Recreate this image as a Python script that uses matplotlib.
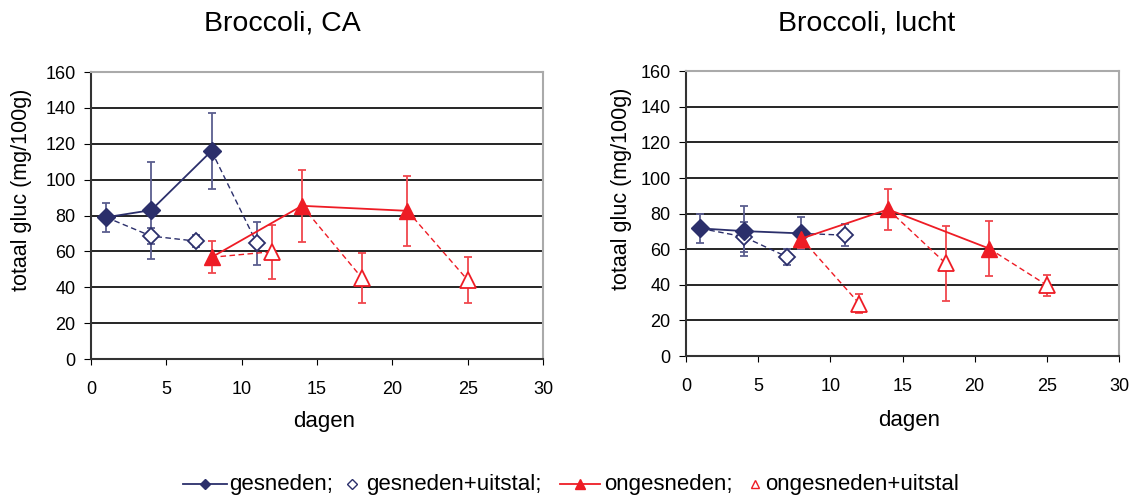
import numpy as np
import matplotlib
matplotlib.use('Agg')
import matplotlib.pyplot as plt
from matplotlib.lines import Line2D

nan = np.nan

# --- Broccoli, CA ---
ca_g_days = [1, 4, 8]
ca_g_vals = [79, 83, 116]
ca_g_err = [8, 27, 21]

ca_gu_days = [1, 4, 7, nan, 8, 11]
ca_gu_vals = [79, 68.5, 65.7, nan, 116, 64.6]
ca_gu_err = [nan, 4.5, 3.3, nan, nan, 12]

ca_o_days = [8, 14, 21]
ca_o_vals = [56.7, 85.4, 82.6]
ca_o_err = [9, 20, 19.5]

ca_ou_days = [8, 12, nan, 14, 18, nan, 21, 25]
ca_ou_vals = [56.7, 59.8, nan, 85.4, 45, nan, 82.6, 44]
ca_ou_err = [nan, 15, nan, nan, 14, nan, nan, 13]

# --- Broccoli, lucht ---
lu_g_days = [1, 4, 8]
lu_g_vals = [71.7, 70.2, 68.9]
lu_g_err = [8, 14, 9]

lu_gu_days = [1, 4, 7, nan, 8, 11]
lu_gu_vals = [71.7, 67, 55.7, nan, 68.9, 67.9]
lu_gu_err = [nan, 8.5, 4.5, nan, nan, 6.3]

lu_o_days = [8, 14, 21]
lu_o_vals = [66, 82.4, 60.4]
lu_o_err = [5.5, 11.5, 15.3]

lu_ou_days = [8, 12, nan, 14, 18, nan, 21, 25]
lu_ou_vals = [66, 29.5, nan, 82.4, 52, nan, 60.4, 39.8]
lu_ou_err = [nan, 5.6, nan, nan, 21, nan, nan, 6]

labels = ['gesneden;', 'gesneden+uitstal;', 'ongesneden;', 'ongesneden+uitstal']

navy = '#2b2f6b'
navy_err = '#5b5e8f'
red = '#ee1c25'
red_err = '#f0474d'

plt.rcParams['font.family'] = ['Liberation Sans', 'DejaVu Sans']

W, H = 1135.0, 498.0


def plot_open(ax, days, vals, err, col, ecol, marker, ms):
    days = np.array(days, dtype=float)
    vals = np.array(vals, dtype=float)
    err = np.array(err, dtype=float)
    ax.plot(days, vals, color=col, lw=1, ls=(0, (4, 2.5)), zorder=3)
    m = ~np.isnan(err)
    ax.errorbar(days[m], vals[m], yerr=err[m], fmt='none', ecolor=ecol,
                elinewidth=1.3, capsize=3, capthick=1.3, zorder=2)
    ax.plot(days[m], vals[m], ls='none', marker=marker, ms=ms, mfc='white',
            mec=col, mew=1.3, zorder=4)


def plot_filled(ax, days, vals, err, col, ecol, marker, ms):
    ax.errorbar(days, vals, yerr=err, fmt='none', ecolor=ecol,
                elinewidth=1.3, capsize=3, capthick=1.3, zorder=2)
    ax.plot(days, vals, color=col, lw=1.3, marker=marker, ms=ms, zorder=5)


def panel(ax, g, gu, o, ou, ylab_xy, xlab_y):
    plot_open(ax, *gu, navy, navy_err, 'D', 8)
    plot_open(ax, *ou, red, red_err, '^', 11)
    plot_filled(ax, *g, navy, navy_err, 'D', 9)
    plot_filled(ax, *o, red, red_err, '^', 12)
    ax.set_xlim(0, 30)
    ax.set_ylim(0, 160)
    ax.set_xticks(range(0, 31, 5))
    ax.set_yticks(range(0, 161, 20))
    ax.yaxis.grid(True, color='black', lw=1.2)
    ax.set_axisbelow(True)
    ax.tick_params(labelsize=13, direction='out', color='black')
    ax.tick_params(axis='x', length=4, pad=12)
    ax.tick_params(axis='y', length=5, pad=6)
    for s in ['left', 'bottom']:
        ax.spines[s].set_color('#333333')
        ax.spines[s].set_linewidth(1.5)
    for s in ['top', 'right']:
        ax.spines[s].set_color('#aaaaaa')
        ax.spines[s].set_linewidth(1.5)
    ax.set_xlabel('dagen', fontsize=16)
    ax.set_ylabel('totaal gluc (mg/100g)', fontsize=15.5)
    ax.yaxis.set_label_coords(*ylab_xy)
    ax.xaxis.set_label_coords(0.515, xlab_y)


fig = plt.figure(figsize=(11.35, 4.98), dpi=100)
ax1 = fig.add_axes([91 / W, 1 - 359 / H, 452 / W, 287 / H])
ax2 = fig.add_axes([686 / W, 1 - 356 / H, 433 / W, 284.7 / H])

panel(ax1,
      (ca_g_days, ca_g_vals, ca_g_err), (ca_gu_days, ca_gu_vals, ca_gu_err),
      (ca_o_days, ca_o_vals, ca_o_err), (ca_ou_days, ca_ou_vals, ca_ou_err),
      (-0.13, 0.59), -0.18)
panel(ax2,
      (lu_g_days, lu_g_vals, lu_g_err), (lu_gu_days, lu_gu_vals, lu_gu_err),
      (lu_o_days, lu_o_vals, lu_o_err), (lu_ou_days, lu_ou_vals, lu_ou_err),
      (-0.124, 0.587), -0.19)

fig.text(282 / W, 1 - 24 / H, 'Broccoli, CA', fontsize=20.5, ha='center', va='center')
fig.text(867 / W, 1 - 24 / H, 'Broccoli, lucht', fontsize=20.5, ha='center', va='center')

# legend, laid out by hand like the original
ly = 1 - 484 / H
leg_handles = [
    ((183, 227), 205, dict(color=navy, lw=1.3, marker='D', ms=5)),
    (None, 352, dict(color=navy, lw=0, marker='D', ms=5, mfc='white', mew=1)),
    ((560, 600), 580, dict(color=red, lw=1.3, marker='^', ms=7)),
    (None, 755, dict(color=red, lw=0, marker='^', ms=6, mfc='white', mew=1)),
]
text_x = [229, 366, 604, 765]
for (seg, mx, kw), tx, lab in zip(leg_handles, text_x, labels):
    if seg is not None:
        fig.add_artist(Line2D([seg[0] / W, seg[1] / W], [ly, ly], color=kw['color'],
                              lw=kw['lw']))
    fig.add_artist(Line2D([mx / W], [ly], ls='none', marker=kw['marker'], ms=kw['ms'],
                          color=kw['color'], mfc=kw.get('mfc', kw['color']),
                          mew=kw.get('mew', 1)))
    fig.text(tx / W, ly, lab, fontsize=16, ha='left', va='center')

fig.savefig('out.png', dpi=100)
